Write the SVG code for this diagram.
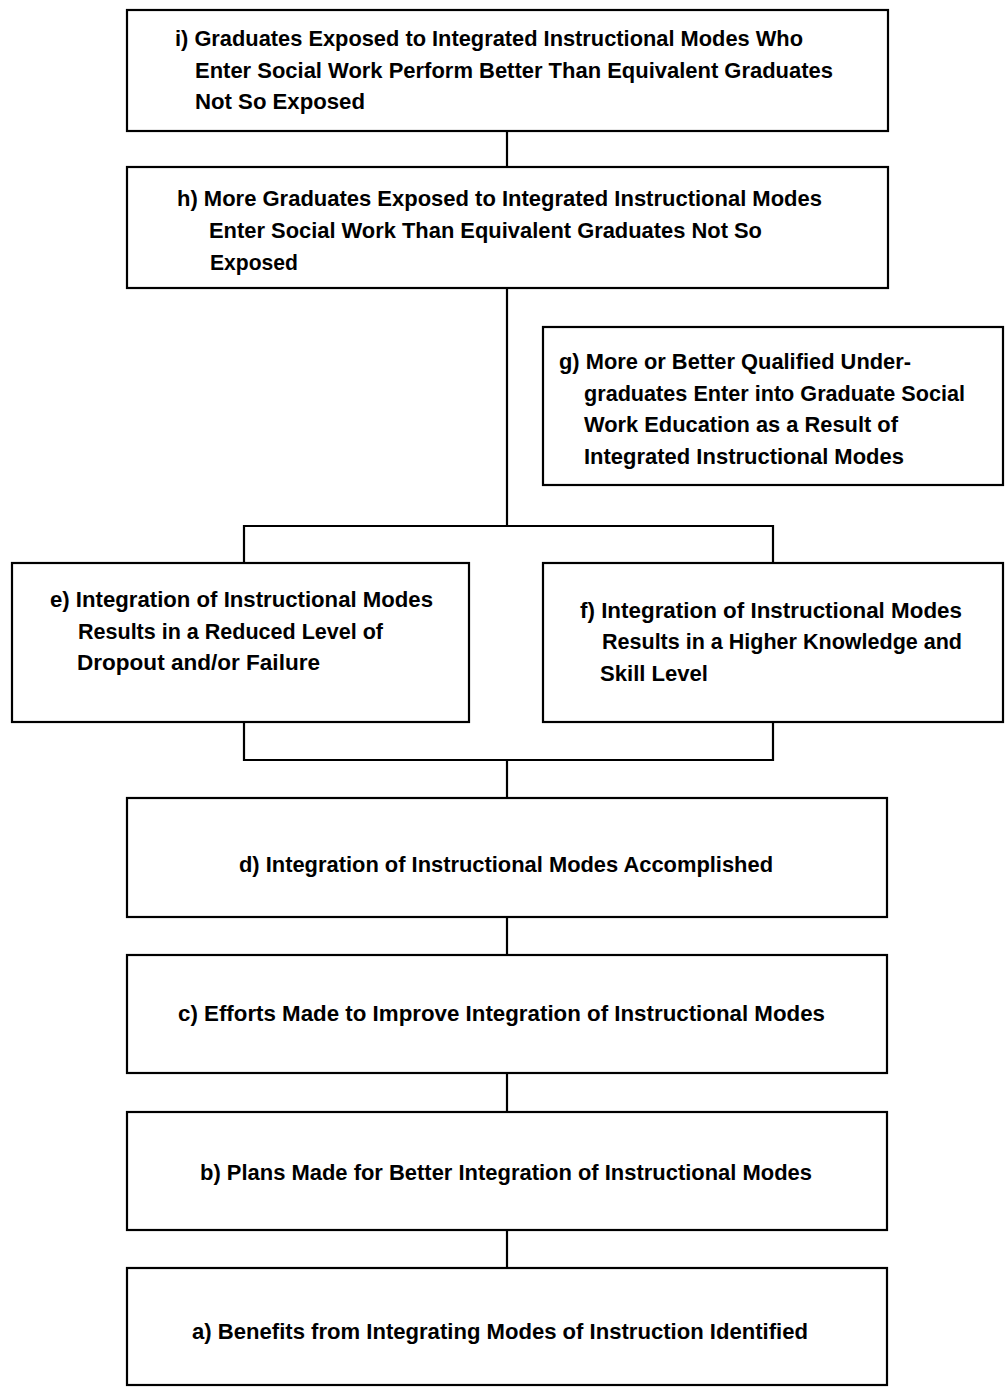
<svg xmlns="http://www.w3.org/2000/svg" width="1007" height="1390" viewBox="0 0 1007 1390">
<style>
.box{fill:#fff;stroke:#000;stroke-width:2.2}
.ln{fill:none;stroke:#000;stroke-width:2.2}
text{font-family:"Liberation Sans",Arial,sans-serif;font-size:22.5px;font-weight:bold;fill:#000}
</style>
<rect width="1007" height="1390" fill="#fff"/>
<g id="connectors">
<line class="ln" x1="507" y1="131" x2="507" y2="167"/>
<line class="ln" x1="507" y1="288" x2="507" y2="526"/>
<polyline class="ln" points="244,563 244,526 773,526 773,563"/>
<polyline class="ln" points="244,722 244,760 773,760 773,722"/>
<line class="ln" x1="507" y1="760" x2="507" y2="798"/>
<line class="ln" x1="507" y1="917" x2="507" y2="955"/>
<line class="ln" x1="507" y1="1073" x2="507" y2="1112"/>
<line class="ln" x1="507" y1="1230" x2="507" y2="1268"/>
</g>
<g id="node-i">
<rect class="box" x="127" y="10" width="761" height="121"/>
<text x="175" y="46" textLength="628" lengthAdjust="spacingAndGlyphs">i) Graduates Exposed to Integrated Instructional Modes Who</text>
<text x="195" y="78" textLength="638" lengthAdjust="spacingAndGlyphs">Enter Social Work Perform Better Than Equivalent Graduates</text>
<text x="195" y="109" textLength="170" lengthAdjust="spacingAndGlyphs">Not So Exposed</text>
</g>
<g id="node-h">
<rect class="box" x="127" y="167" width="761" height="121"/>
<text x="177" y="206" textLength="645" lengthAdjust="spacingAndGlyphs">h) More Graduates Exposed to Integrated Instructional Modes</text>
<text x="209" y="238" textLength="553" lengthAdjust="spacingAndGlyphs">Enter Social Work Than Equivalent Graduates Not So</text>
<text x="210" y="270" textLength="88" lengthAdjust="spacingAndGlyphs">Exposed</text>
</g>
<g id="node-g">
<rect class="box" x="543" y="327" width="460" height="158"/>
<text x="559" y="369" textLength="352" lengthAdjust="spacingAndGlyphs">g) More or Better Qualified Under-</text>
<text x="584" y="401" textLength="381" lengthAdjust="spacingAndGlyphs">graduates Enter into Graduate Social</text>
<text x="584" y="432" textLength="314" lengthAdjust="spacingAndGlyphs">Work Education as a Result of</text>
<text x="584" y="464" textLength="320" lengthAdjust="spacingAndGlyphs">Integrated Instructional Modes</text>
</g>
<g id="node-e">
<rect class="box" x="12" y="563" width="457" height="159"/>
<text x="50" y="607" textLength="383" lengthAdjust="spacingAndGlyphs">e) Integration of Instructional Modes</text>
<text x="78" y="639" textLength="305" lengthAdjust="spacingAndGlyphs">Results in a Reduced Level of</text>
<text x="77" y="670" textLength="243" lengthAdjust="spacingAndGlyphs">Dropout and/or Failure</text>
</g>
<g id="node-f">
<rect class="box" x="543" y="563" width="460" height="159"/>
<text x="580" y="618" textLength="382" lengthAdjust="spacingAndGlyphs">f) Integration of Instructional Modes</text>
<text x="602" y="649" textLength="360" lengthAdjust="spacingAndGlyphs">Results in a Higher Knowledge and</text>
<text x="600" y="681" textLength="108" lengthAdjust="spacingAndGlyphs">Skill Level</text>
</g>
<g id="node-d">
<rect class="box" x="127" y="798" width="760" height="119"/>
<text x="239" y="872" textLength="534" lengthAdjust="spacingAndGlyphs">d) Integration of Instructional Modes Accomplished</text>
</g>
<g id="node-c">
<rect class="box" x="127" y="955" width="760" height="118"/>
<text x="178" y="1021" textLength="647" lengthAdjust="spacingAndGlyphs">c) Efforts Made to Improve Integration of Instructional Modes</text>
</g>
<g id="node-b">
<rect class="box" x="127" y="1112" width="760" height="118"/>
<text x="200" y="1180" textLength="612" lengthAdjust="spacingAndGlyphs">b) Plans Made for Better Integration of Instructional Modes</text>
</g>
<g id="node-a">
<rect class="box" x="127" y="1268" width="760" height="117"/>
<text x="192" y="1339" textLength="616" lengthAdjust="spacingAndGlyphs">a) Benefits from Integrating Modes of Instruction Identified</text>
</g>
</svg>
